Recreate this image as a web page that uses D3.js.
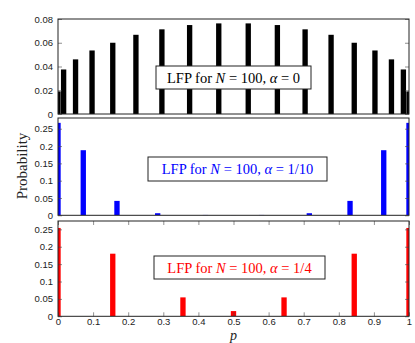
<!DOCTYPE html>
<html><head><meta charset="utf-8">
<script src="https://cdn.jsdelivr.net/npm/d3@7"></script>
<style>body{margin:0;background:#fff}svg{display:block}</style>
</head><body>
<svg id="c" width="415" height="343"></svg>
<script>
// Data
const pA0 = [0, 0.016, 0.050, 0.097, 0.156, 0.222, 0.296, 0.375, 0.458, 0.542, 0.625, 0.704, 0.778, 0.844, 0.903, 0.950, 0.984, 1];
const probA0 = [0.019, 0.0375, 0.046, 0.0535, 0.060, 0.0667, 0.0713, 0.0749, 0.0763, 0.0763, 0.0749, 0.0713, 0.0667, 0.060, 0.0535, 0.046, 0.0375, 0.019];
const pA10 = [0, 0.072, 0.168, 0.284, 0.42, 0.5, 0.58, 0.716, 0.832, 0.928, 1];
const probA10 = [0.267, 0.188, 0.0416, 0.006, 0.001, 0.0005, 0.001, 0.006, 0.0416, 0.188, 0.267];
const pA4 = [0, 0.156, 0.356, 0.5, 0.644, 0.844, 1];
const probA4 = [0.254, 0.18, 0.0544, 0.015, 0.0544, 0.18, 0.254];
const yTicksTop = [0, 0.02, 0.04, 0.06, 0.08];
const yTicksLow = [0, 0.05, 0.1, 0.15, 0.2, 0.25];
const xTicks = [0, 0.1, 0.2, 0.3, 0.4, 0.5, 0.6, 0.7, 0.8, 0.9, 1];
const labelAlpha = ["0", "1/10", "1/4"];

const svg = d3.select("#c");
const L = 58, R = 409;
const x = d3.scaleLinear().domain([0, 1]).range([L, R]);
const barW = x(0.0152) - x(0);

const panels = [
  {p: pA0, v: probA0, top: 19, bot: 114, ymax: 0.08, ticks: yTicksTop, color: "#000", lab: labelAlpha[0], box: [156, 66, 311, 89], xlab: false},
  {p: pA10, v: probA10, top: 118, bot: 215.3, ymax: 0.281, ticks: yTicksLow, color: "#0000ff", lab: labelAlpha[1], box: [148, 157, 327, 181], xlab: false},
  {p: pA4, v: probA4, top: 221, bot: 316.3, ymax: 0.274, ticks: yTicksLow, color: "#ff0000", lab: labelAlpha[2], box: [154, 256, 325, 279], xlab: true}
];

const tickFont = "'Liberation Sans', Arial, sans-serif";
const serif = "'Liberation Serif', 'DejaVu Serif', serif";

panels.forEach((P, i) => {
  const y = d3.scaleLinear().domain([0, P.ymax]).range([P.bot, P.top]);
  const g = svg.append("g");
  const cid = "clip" + i;
  svg.append("clipPath").attr("id", cid).append("rect")
    .attr("x", L).attr("y", P.top).attr("width", R - L).attr("height", P.bot - P.top);
  g.append("g").attr("clip-path", `url(#${cid})`).selectAll("rect")
    .data(P.p.map((d, k) => ({p: d, v: P.v[k]})))
    .join("rect")
    .attr("x", d => x(d.p) - barW / 2)
    .attr("width", barW)
    .attr("y", d => y(d.v))
    .attr("height", d => P.bot - y(d.v))
    .attr("fill", P.color);
  const ya = d3.axisLeft(y).tickValues(P.ticks).tickSize(-4).tickPadding(5)
    .tickFormat(d => d === 0 ? "0" : d3.format("")(+d.toFixed(2)));
  const gl = g.append("g").attr("transform", `translate(${L},0)`).call(ya);
  gl.select(".domain").remove();
  gl.selectAll("text").attr("font-family", tickFont).attr("font-size", 9.5).attr("fill", "#222");
  gl.selectAll("line").attr("stroke", "#444").attr("stroke-width", 0.6);
  const yr = d3.axisRight(y).tickValues(P.ticks).tickSize(-4).tickFormat("");
  const gr = g.append("g").attr("transform", `translate(${R},0)`).call(yr);
  gr.select(".domain").remove();
  gr.selectAll("line").attr("stroke", "#444").attr("stroke-width", 0.6);
  if (P.xlab) {
    const xb = d3.axisBottom(x).tickValues(xTicks).tickSize(-4).tickPadding(2)
      .tickFormat(d => d === 0 ? "0" : d === 1 ? "1" : d3.format(".1f")(d));
    const gb = g.append("g").attr("transform", `translate(0,${P.bot})`).call(xb);
    gb.select(".domain").remove();
    gb.selectAll("text").attr("font-family", tickFont).attr("font-size", 9.5).attr("fill", "#222");
    gb.selectAll("line").attr("stroke", "#444").attr("stroke-width", 0.6);
    const xt = d3.axisTop(x).tickValues(xTicks).tickSize(-4).tickFormat("");
    const gt = g.append("g").attr("transform", `translate(0,${P.top})`).call(xt);
    gt.select(".domain").remove();
    gt.selectAll("line").attr("stroke", "#444").attr("stroke-width", 0.6);
  }
  g.append("rect").attr("x", L).attr("y", P.top).attr("width", R - L).attr("height", P.bot - P.top)
    .attr("fill", "none").attr("stroke", "#222").attr("stroke-width", 1);
  const [bx0, by0, bx1, by1] = P.box;
  g.append("rect").attr("x", bx0).attr("y", by0).attr("width", bx1 - bx0).attr("height", by1 - by0)
    .attr("fill", "#fff").attr("stroke", "#222").attr("stroke-width", 1);
  const t = g.append("text").attr("x", (bx0 + bx1) / 2).attr("y", (by0 + by1) / 2 + 5)
    .attr("text-anchor", "middle").attr("font-family", serif).attr("font-size", 14.5).attr("fill", P.color);
  t.append("tspan").text("LFP for ");
  t.append("tspan").attr("font-style", "italic").text("N");
  t.append("tspan").text(" = 100,  ");
  t.append("tspan").attr("font-style", "italic").text("α");
  t.append("tspan").text(" = " + P.lab);
});

svg.append("text").attr("transform", "translate(27,166) rotate(-90)")
  .attr("text-anchor", "middle").attr("font-family", serif).attr("font-size", 15).attr("fill", "#222")
  .text("Probability");
svg.append("text").attr("x", x(0.5)).attr("y", 340)
  .attr("text-anchor", "middle").attr("font-family", serif).attr("font-style", "italic")
  .attr("font-size", 14).attr("fill", "#222").text("p");
</script>
</body></html>
